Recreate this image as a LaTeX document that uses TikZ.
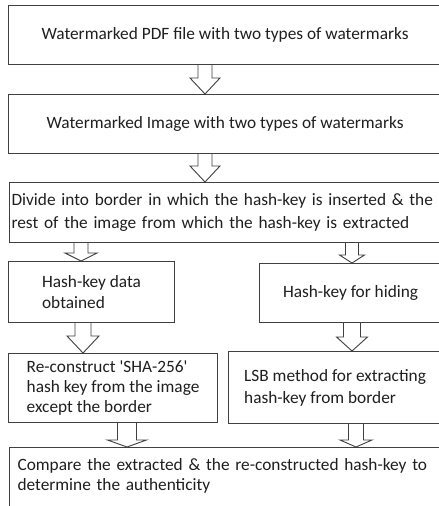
\documentclass[tikz,border=0pt]{standalone}
\usepackage{fontspec}
\setmainfont{Carlito}
\usetikzlibrary{calc,positioning}

% hollow block arrow between two boxes: from, to, x, shaft half, head half, head length
\newcommand{\hollowarrow}[6]{%
  \path (#3,0) coordinate (ax);
  \draw[fat] ($(ax |- #1.south)+(-#4,0)$) -- ($(ax |- #2.north)+(-#4,-#6)$)
    -- ($(ax |- #2.north)+(-#5,-#6)$) -- (ax |- #2.north)
    -- ($(ax |- #2.north)+(#5,-#6)$) -- ($(ax |- #2.north)+(#4,-#6)$)
    -- ($(ax |- #1.south)+(#4,0)$);
}

\begin{document}
\begin{tikzpicture}[
        x=1pt, y=-1pt,
        box/.style={draw=black!75, line width=1.1pt, rectangle, anchor=north west, inner sep=3pt,
            font=\fontsize{17.3}{21}\selectfont, text=black!88},
        fat/.style={draw=black!75, line width=0.9pt, fill=white, line join=miter}
    ]
        \useasboundingbox (0,0) rectangle (439,506);
        \fill[white] (0,0) rectangle (439,506);
        \clip (0,0) rectangle (439,506);

        \node[box, minimum width=433, minimum height=59] (pdf) at (8,5) {Watermarked PDF file with two types of watermarks};
        \node[box, minimum width=433, minimum height=59] (img) at (8,94) {Watermarked Image with two types of watermarks};
        \node[box, minimum width=432, minimum height=60, text width=440, align=left,
            inner xsep=2pt, font=\fontsize{17.3}{23}\selectfont] (divide) at (9,182)
            {Divide into border in which the hash-key is inserted \& the\\rest of the image from which the hash-key is extracted};
        \node[box, minimum width=166, minimum height=61, align=left] (data) at (8,261) {Hash-key data\\obtained};
        \node[box, minimum width=182, minimum height=59] (hiding) at (259,263) {Hash-key for hiding};
        \node[box, minimum width=209, minimum height=69, align=left,
            font=\fontsize{17.3}{20}\selectfont] (sha) at (8,353)
            {Re-construct \textquotesingle SHA-256\textquotesingle\\hash key from the image\\except the border};
        \node[box, minimum width=213, minimum height=72, align=left,
            font=\fontsize{17.3}{22}\selectfont] (lsb) at (228,351)
            {LSB method for extracting\\hash-key from border};
        \node[box, text width=430, align=left, inner xsep=8pt, inner ysep=11pt,
            font=\fontsize{17.3}{20}\selectfont] (compare) at (9,447)
            {Compare the extracted \& the re-constructed hash-key to\\determine the authenticity\rule[-10pt]{0pt}{10pt}};

        \hollowarrow{pdf}{img}{205}{7}{15}{16}
        \hollowarrow{img}{divide}{205}{7}{15}{16}
        \hollowarrow{divide}{data}{81}{7}{16}{8}
        \hollowarrow{divide}{hiding}{352}{6.5}{12.5}{8}
        \hollowarrow{data}{sha}{83}{8}{16}{17}
        \hollowarrow{hiding}{lsb}{352}{8.5}{15.5}{14}
        \hollowarrow{sha}{compare}{127}{9.5}{19.5}{7}
        \hollowarrow{lsb}{compare}{356}{7.5}{16}{7}
    \end{tikzpicture}
\end{document}
